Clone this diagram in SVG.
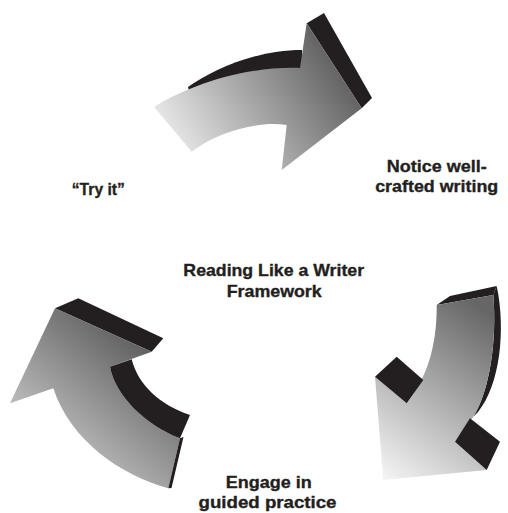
<svg xmlns="http://www.w3.org/2000/svg" width="508" height="513" viewBox="0 0 508 513">
<defs>
<style>
.dark{fill:#231f20}
.lbl{font-family:"Liberation Sans",Arial,sans-serif;font-weight:bold;font-size:17px;fill:#231f20;stroke:#231f20;stroke-width:0.35px;text-anchor:middle}
</style>
<linearGradient id="gTop" gradientUnits="userSpaceOnUse" x1="175" y1="155" x2="345" y2="45">
<stop offset="0" stop-color="#ececec"/><stop offset="1" stop-color="#555"/>
</linearGradient>
<linearGradient id="gRight" gradientUnits="userSpaceOnUse" x1="385" y1="478" x2="498" y2="320">
<stop offset="0" stop-color="#f4f4f4"/><stop offset="1" stop-color="#666"/>
</linearGradient>
<linearGradient id="gLeft" gradientUnits="userSpaceOnUse" x1="40" y1="480" x2="165" y2="330">
<stop offset="0" stop-color="#d8d8d8"/><stop offset="1" stop-color="#4e4e4e"/>
</linearGradient>
</defs>
<rect width="508" height="513" fill="#fff"/>
<g id="connectors">
<g id="arrow-top">
<path class="dark" d="M188,87 C212,70 255,50 302,50 L302,75 L190,95 Z"/>
<path class="dark" d="M306.7,23.3 L324,13 L372,98 L361.7,108.3 Z"/>
<path fill="url(#gTop)" d="M154,107 C185,88 240,66 300,68 L306.7,23.3 L361.7,108.3 L281.7,170 L286.7,125 C260,121 220,130 191.7,151.7 Z"/>
</g>
<g id="arrow-right">
<path class="dark" d="M436.7,305 L450,296 L496.7,286 L493.3,295 Z"/>
<path class="dark" d="M493.3,295 L496.7,286 C506,330 500,385 478,412 L473.3,416.7 C490,390 497,340 493.3,295 Z"/>
<path fill="url(#gRight)" d="M375,376.7 L406.7,403.3 C425,380 437,350 436.7,305 L493.3,295 C497,340 490,390 473.3,416.7 L455,441.7 L486.7,470 L383.3,480 Z"/>
<path class="dark" d="M375,376.7 L396.7,356.7 L423.3,380 L406.7,403.3 Z"/>
<path class="dark" d="M455,441.7 L470,418.3 L500,441.7 L486.7,470 Z"/>
</g>
<g id="arrow-left">
<path class="dark" d="M55,308.3 L78.3,298.3 L163.3,338.3 L151.7,351.7 Z"/>
<path fill="url(#gLeft)" d="M55,308.3 L151.7,351.7 L110,366.7 C115,395 145,425 180,438.3 L168.3,488.3 C120,475 70,440 53.3,388.3 L10,403.3 Z"/>
<path class="dark" d="M110,366.7 L131.7,359.3 C138,385 160,405 190,415 L180,438.3 C145,425 115,395 110,366.7 Z"/>
<path class="dark" d="M180,438.3 L183.5,437 L171.5,488 L168.3,488.3 Z"/>
</g>
</g>
<g id="node-try"><text class="lbl" x="98.3" y="195" textLength="53" lengthAdjust="spacingAndGlyphs">“Try it”</text></g>
<g id="node-notice"><text class="lbl" x="436.7" y="171.7" textLength="100" lengthAdjust="spacingAndGlyphs">Notice well-</text><text class="lbl" x="436.7" y="192.3" textLength="123" lengthAdjust="spacingAndGlyphs">crafted writing</text></g>
<g id="node-center"><text class="lbl" x="273.7" y="276" textLength="180.7" lengthAdjust="spacingAndGlyphs">Reading Like a Writer</text><text class="lbl" x="274.2" y="296.7" textLength="95" lengthAdjust="spacingAndGlyphs">Framework</text></g>
<g id="node-engage"><text class="lbl" x="268.7" y="488.3" textLength="86" lengthAdjust="spacingAndGlyphs">Engage in</text><text class="lbl" x="267.5" y="508.3" textLength="138" lengthAdjust="spacingAndGlyphs">guided practice</text></g>
</svg>
